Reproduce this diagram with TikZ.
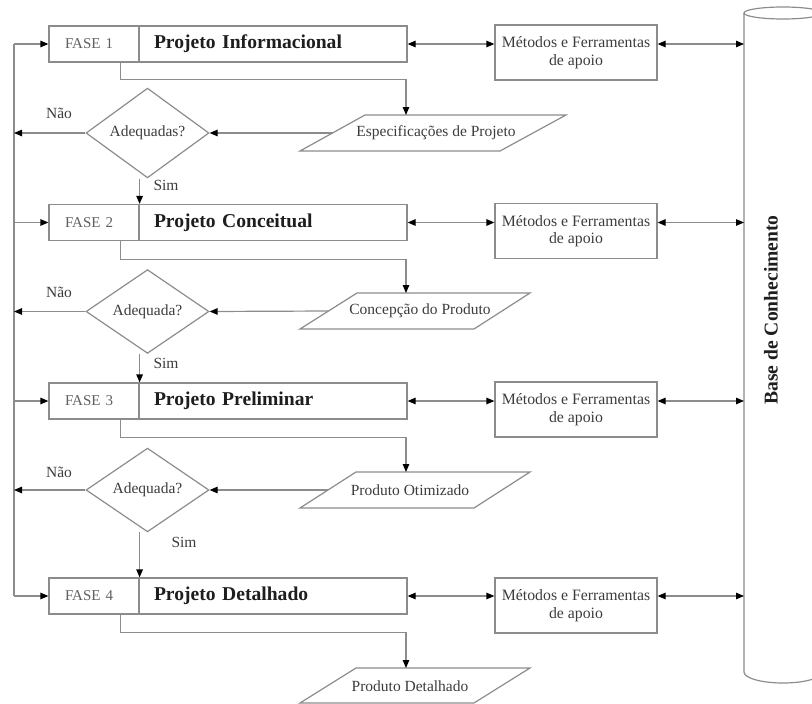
\documentclass[tikz,border=0pt]{standalone}
\usepackage{fontspec}
\setmainfont{Liberation Serif}
\usetikzlibrary{shapes.geometric,arrows.meta,calc}
\definecolor{ln}{RGB}{140,140,140}
\definecolor{tx}{RGB}{30,30,30}
\definecolor{fx}{RGB}{95,95,95}
\definecolor{lx}{RGB}{60,60,60}
\begin{document}
\begin{tikzpicture}[x=1pt,y=-1pt,
  line/.style={draw=ln,line width=1.2pt},
  arr/.style={line,-{Triangle[length=8pt,width=6.5pt,color=black]}},
  darr/.style={line,{Triangle[length=8pt,width=6.5pt,color=black]}-{Triangle[length=8pt,width=6.5pt,color=black]}},
  fasebox/.style={line,rectangle,minimum height=36pt,text width=58pt,inner xsep=16pt,inner ysep=0pt,
    align=left,font=\fontsize{15}{18}\selectfont,text=fx},
  titlebox/.style={line,rectangle,minimum height=36pt,text width=238pt,inner xsep=15pt,
    inner ysep=0pt,align=left,font=\fontsize{19.6}{22}\selectfont\bfseries,text=tx},
  metbox/.style={line,rectangle,minimum width=162pt,minimum height=55pt,inner sep=0pt,
    align=center,font=\fontsize{15.8}{17.5}\selectfont,text=lx},
  decision/.style={line,diamond,minimum width=123pt,minimum height=70pt,inner sep=0pt,
    font=\fontsize{15.5}{18}\selectfont,text=lx},
  datatext/.style={inner sep=0pt,font=\fontsize{15.5}{18}\selectfont,text=lx},
  lbl/.style={inner sep=0pt,font=\fontsize{15.5}{18}\selectfont,text=lx}
]
\useasboundingbox (0,0) rectangle (812,704);
\clip (0,0) rectangle (812,704);

% rails
\coordinate (rail) at (14,0);
\coordinate (drop) at (406,0);

% cylinder
\draw[line] (783,13) ellipse [x radius=39, y radius=6];
\draw[line] (744,13) -- (744,672) arc[start angle=180, end angle=0, x radius=39, y radius=11] -- (822,13);
\coordinate (cylw) at (744,0);
\node[rotate=90,inner sep=0pt,font=\fontsize{19.6}{22}\selectfont\bfseries,text=tx] (base) at (771,310) {Base de Conhecimento};

% phase boxes
\node[fasebox] (f1l) at (94,44) {FASE 1};
\node[titlebox] (f1t) at (273,44) {Projeto Informacional};
\node[fasebox] (f2l) at (94,222.5) {FASE 2};
\node[titlebox] (f2t) at (273,222.5) {Projeto Conceitual};
\node[fasebox] (f3l) at (94,401) {FASE 3};
\node[titlebox] (f3t) at (273,401) {Projeto Preliminar};
\node[fasebox] (f4l) at (94,596) {FASE 4};
\node[titlebox] (f4t) at (273,596) {Projeto Detalhado};

% methods boxes
\node[metbox] (m1) at (576,52.5) {Métodos e Ferramentas\\de apoio};
\node[metbox] (m2) at (576,231) {Métodos e Ferramentas\\de apoio};
\node[metbox] (m3) at (576,409.5) {Métodos e Ferramentas\\de apoio};
\node[metbox] (m4) at (576,605.5) {Métodos e Ferramentas\\de apoio};

% data (parallelograms)
\draw[line] (300,151) -- (365,115) -- (566,115) -- (500,151) -- cycle;
\coordinate (p1w) at (332.5,133);
\coordinate (p1n) at (406,115);
\node[datatext] (p1) at (436,133) {Especificações de Projeto};

\draw[line] (300,329) -- (357,293) -- (530,293) -- (474,329) -- cycle;
\coordinate (p2w) at (328.5,311);
\coordinate (p2n) at (406,293);
\node[datatext] (p2) at (420,311) {Concepção do Produto};

\draw[line] (300,508) -- (356,472) -- (530,472) -- (474,508) -- cycle;
\coordinate (p3w) at (328,490);
\coordinate (p3n) at (406,472);
\node[datatext] (p3) at (410,490) {Produto Otimizado};

\draw[line] (300,703) -- (356,668) -- (530,668) -- (474,703) -- cycle;
\coordinate (p4n) at (406,668);
\node[datatext] (p4) at (410,686) {Produto Detalhado};

% decisions
\node[decision] (d1) at (147.5,133) {Adequadas?};
\node[decision] (d2) at (147.5,311.5) {Adequada?};
\node[decision] (d3) at (147.5,490) {Adequada?};

% labels
\node[lbl] (n1) at (59,113) {Não};
\node[lbl] (n2) at (59,292) {Não};
\node[lbl] (n3) at (59,472) {Não};
\node[lbl] (s1) at (166,185) {Sim};
\node[lbl] (s2) at (166,363) {Sim};
\node[lbl] (s3) at (184,542) {Sim};

% left rail
\draw[line] (f1l.west -| rail) -- (f4l.west -| rail);
\foreach \f in {f1l,f2l,f3l,f4l} \draw[arr] (\f.west -| rail) -- (\f.west);
\foreach \d in {d1,d2,d3} \draw[arr] (\d.west) -- (\d.west -| rail);

% phase to data
\draw[arr] ($(f1l.south west)+(72,0)$) -- ++(0,17) -| (p1n);
\draw[arr] ($(f2l.south west)+(72,0)$) -- ++(0,18) -| (p2n);
\draw[arr] ($(f3l.south west)+(72,0)$) -- ++(0,18) -| (p3n);
\draw[arr] ($(f4l.south west)+(72,0)$) -- ++(0,18) -| (p4n);

% data to decision
\draw[arr] (p1w) -- (d1.east);
\draw[arr] (p2w) -- (d2.east);
\draw[arr] (p3w) -- (d3.east);

% decision to next phase (Sim)
\draw[arr] (d1.south -| f2l.north east) -- (f2l.north east);
\draw[arr] (d2.south -| f3l.north east) -- (f3l.north east);
\draw[arr] (d3.south -| f4l.north east) -- (f4l.north east);

% phase <-> methods <-> base
\foreach \i in {1,2,3,4} {
  \draw[darr] (f\i t.east) -- (f\i t.east -| m\i.west);
  \draw[darr] (f\i t.east -| m\i.east) -- (f\i t.east -| cylw);
}
\end{tikzpicture}
\end{document}
